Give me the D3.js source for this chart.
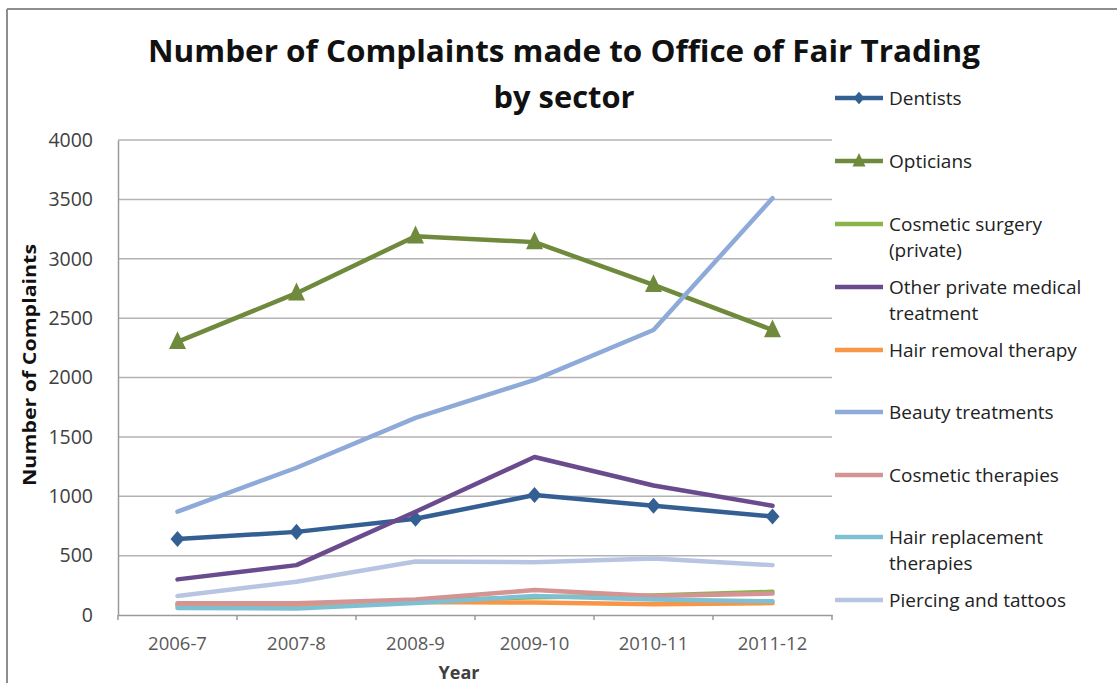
<!DOCTYPE html>
<html><head><meta charset="utf-8">
<script src="https://cdn.jsdelivr.net/npm/d3@7"></script>
<style>
html,body{margin:0;padding:0;background:#fff;}
svg{display:block;}
text{font-family:"Open Sans",Lato,sans-serif;}
</style></head>
<body>
<svg id="c" width="1117" height="683"></svg>
<script>
const years = ["2006-7","2007-8","2008-9","2009-10","2010-11","2011-12"];
const yTicks = [0,500,1000,1500,2000,2500,3000,3500,4000];
const seriesNames = ["Dentists","Opticians","Cosmetic surgery (private)","Other private medical treatment","Hair removal therapy","Beauty treatments","Cosmetic therapies","Hair replacement therapies","Piercing and tattoos"];
const dentists = [640,700,810,1010,920,830];
const opticians = [2300,2710,3190,3140,2780,2400];
const cosmeticSurgery = [90,90,120,150,165,195];
const otherMedical = [300,420,870,1330,1090,920];
const hairRemoval = [80,75,110,105,90,100];
const beauty = [870,1240,1660,1980,2400,3510];
const cosmeticTherapies = [100,100,130,210,160,180];
const hairReplacement = [60,55,100,160,130,115];
const piercing = [160,280,450,445,475,420];

const values = [dentists,opticians,cosmeticSurgery,otherMedical,hairRemoval,beauty,cosmeticTherapies,hairReplacement,piercing];
const colors = ["#335f92","#6f8a3c","#8ab34c","#6a4b8d","#f79646","#8eaad8","#d49494","#7fbfd4","#b8c5e2"];
const markers = ["diamond","triangle",null,null,null,null,null,null,null];
const legendLines = [["Dentists"],["Opticians"],["Cosmetic surgery","(private)"],["Other private medical","treatment"],["Hair removal therapy"],["Beauty treatments"],["Cosmetic therapies"],["Hair replacement","therapies"],["Piercing and tattoos"]];

const svg = d3.select("#c");
const W = 1117, H = 683;
const m = {l:118, r:832, t:140, b:615};
const FONT = "'Open Sans',Lato,sans-serif";

// frame
svg.append("line").attr("x1",7).attr("x2",W).attr("y1",9).attr("y2",9).attr("stroke","#8e8e8e").attr("stroke-width",2);
svg.append("line").attr("x1",7).attr("x2",7).attr("y1",9).attr("y2",H).attr("stroke","#8e8e8e").attr("stroke-width",2);

const x = d3.scaleBand().domain(years).range([m.l,m.r]);
const y = d3.scaleLinear().domain([0,4000]).range([m.b,m.t]);
const cx = d => x(d) + x.bandwidth()/2;

// gridlines
svg.append("g").selectAll("line").data(yTicks.filter(t=>t>0)).join("line")
  .attr("x1",m.l).attr("x2",m.r).attr("y1",d=>y(d)).attr("y2",d=>y(d))
  .attr("stroke","#b3b3b3").attr("stroke-width",1.5);

// y axis
const ya = svg.append("g").attr("transform",`translate(${m.l},0)`)
  .call(d3.axisLeft(y).tickValues(yTicks).tickFormat(d3.format("d")).tickSize(0).tickPadding(25));
ya.select(".domain").attr("stroke","#9a9a9a").attr("stroke-width",1.5);
ya.selectAll("text").attr("font-size",19.5).attr("fill","#404040").attr("font-family",FONT);

// x axis
const xa = svg.append("g").attr("transform",`translate(0,${m.b})`)
  .call(d3.axisBottom(x).tickSize(0).tickPadding(22));
xa.select(".domain").attr("stroke","#9a9a9a").attr("stroke-width",1.5);
xa.selectAll("text").attr("font-size",18.5).attr("fill","#595959").attr("font-family",FONT);
// tick marks between categories
svg.append("g").selectAll("line").data(years.concat(["end"])).join("line")
  .attr("x1",(d,i)=>m.l + i*x.bandwidth()).attr("x2",(d,i)=>m.l + i*x.bandwidth())
  .attr("y1",m.b).attr("y2",m.b+5).attr("stroke","#9a9a9a").attr("stroke-width",1.5);

// lines
const line = d3.line().x((d,i)=>cx(years[i])).y(d=>y(d));
const diamond = (s)=>`M0,${-s*1.15}L${s},0L0,${s*1.15}L${-s},0Z`;
const triangle = (s)=>`M0,${-s*1.25}L${s},${s*0.85}L${-s},${s*0.85}Z`;
values.forEach((vals,k)=>{
  const g = svg.append("g");
  g.append("path").datum(vals).attr("d",line).attr("fill","none")
    .attr("stroke",colors[k]).attr("stroke-width",4.5).attr("stroke-linejoin","round").attr("stroke-linecap","round");
  if(markers[k]){
    g.selectAll("path.m").data(vals).join("path").attr("class","m")
      .attr("transform",(d,i)=>`translate(${cx(years[i])},${y(d)})`)
      .attr("d",markers[k]==="diamond"?diamond(7):triangle(8.5))
      .attr("fill",colors[k]);
  }
});

// title
svg.append("text").attr("x",564).attr("y",62).attr("text-anchor","middle").attr("font-weight","bold").attr("font-size",30).attr("fill","#111")
  .attr("textLength",832).attr("lengthAdjust","spacingAndGlyphs").text("Number of Complaints made to Office of Fair Trading");
svg.append("text").attr("x",564).attr("y",108).attr("text-anchor","middle").attr("font-weight","bold").attr("font-size",30).attr("fill","#111")
  .attr("textLength",141).attr("lengthAdjust","spacingAndGlyphs").text("by sector");

// axis titles
svg.append("text").attr("transform","translate(36,365) rotate(-90)").attr("text-anchor","middle")
  .attr("font-weight","bold").attr("font-size",18).attr("fill","#111")
  .attr("textLength",242).attr("lengthAdjust","spacingAndGlyphs").text("Number of Complaints");
svg.append("text").attr("x",459).attr("y",679).attr("text-anchor","middle")
  .attr("font-weight","bold").attr("font-size",18).attr("fill","#404040").text("Year");

// legend
const legY = [98,161,224,287,350,412,475,537,600];
const leg = svg.append("g");
legendLines.forEach((lines,k)=>{
  const gy = legY[k];
  leg.append("line").attr("x1",835).attr("x2",883).attr("y1",gy).attr("y2",gy)
    .attr("stroke",colors[k]).attr("stroke-width",4.5);
  if(markers[k]==="diamond") leg.append("path").attr("transform",`translate(859,${gy})`).attr("d",diamond(5.5)).attr("fill",colors[k]);
  if(markers[k]==="triangle") leg.append("path").attr("transform",`translate(859,${gy})`).attr("d",triangle(6.5)).attr("fill",colors[k]);
  const t = leg.append("text").attr("font-size",19).attr("fill","#222").attr("font-family",FONT);
  lines.forEach((s,j)=>t.append("tspan").attr("x",889).attr("y",gy+7+j*26).text(s));
});
</script>
</body></html>
